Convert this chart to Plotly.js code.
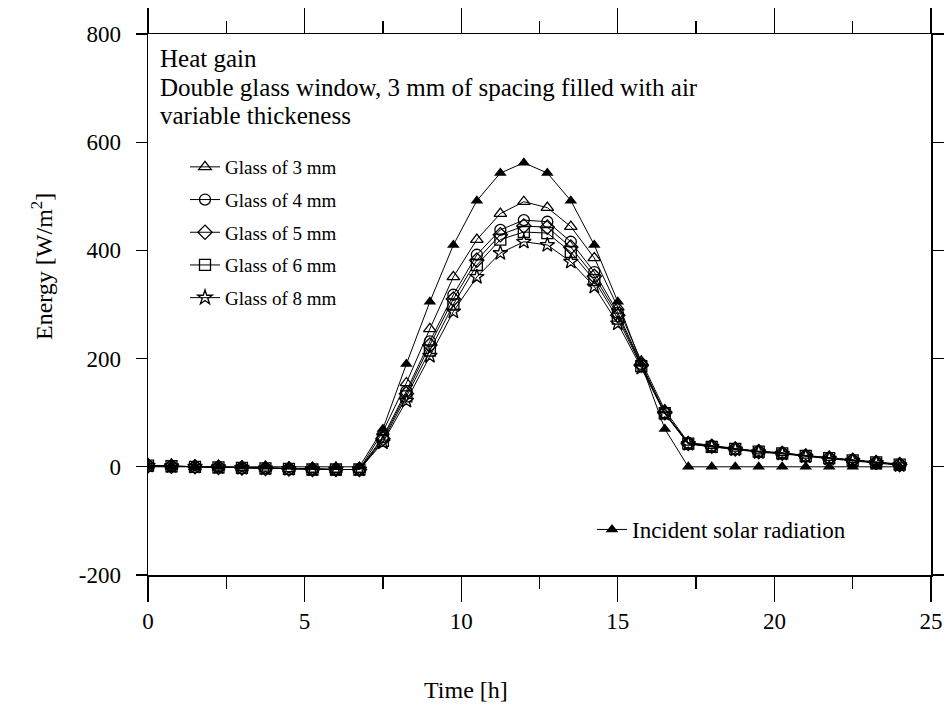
<!DOCTYPE html>
<html>
<head>
<meta charset="utf-8">
<script src="https://cdn.plot.ly/plotly-3.0.1.min.js"></script>
<style>html,body{margin:0;padding:0;background:#fff;}#chart{width:951px;height:709px;}</style>
</head>
<body>
<div id="chart"></div>
<script>
// Time of day [h]
const timeH = [0,0.75,1.5,2.25,3,3.75,4.5,5.25,6,6.75,7.5,8.25,9,9.75,10.5,11.25,12,12.75,13.5,14.25,15,15.75,16.5,17.25,18,18.75,19.5,20.25,21,21.75,22.5,23.25,24];
// Incident solar radiation [W/m2]
const solar = [0,0,0,0,0,0,0,0,0,0,70,190,305,410,492,543,562,543,492,410,305,190,70,0,0,0,0,0,0,0,0,0,0];
// Heat gain for each glass thickness [W/m2]
const glass3 = [2,1,0,-1,-2,-3,-4,-5,-5,-5,65,155,255,351,420,468,490,479,444,386,295,195,105,45,39,34,29,26,21,17,13,9,5];
const glass4 = [2,1,0,-1,-2,-3,-4,-5,-5,-5,55,140,232,318,392,438,456,453,416,360,285,190,100,44,38,33,28,25,20,16,12,8,4];
const glass5 = [2,1,0,-1,-2,-3,-4,-5,-5,-5,52,135,225,310,382,429,445,443,406,352,280,188,100,43,38,33,28,25,20,16,12,8,4];
const glass6 = [2,1,0,-1,-2,-3,-4,-5,-5,-5,48,130,215,300,373,420,434,432,397,345,274,186,99,43,37,33,28,25,20,16,12,8,4];
const glass8 = [2,1,0,-1,-2,-3,-4,-5,-5,-5,45,122,205,287,351,395,416,410,379,333,265,183,98,42,37,32,27,24,19,15,11,7,3];

const seriesNames = ['Glass of 3 mm','Glass of 4 mm','Glass of 5 mm','Glass of 6 mm','Glass of 8 mm'];
const seriesValues = [glass3, glass4, glass5, glass6, glass8];
const seriesSymbols = ['triangle-up-open','circle-open','diamond-open','square-open','star-open'];
const solarName = 'Incident solar radiation';
const xTicks = [0,5,10,15,20,25];
const xMinorTicks = [2.5,7.5,12.5,17.5,22.5];
const yTicks = [-200,0,200,400,600,800];

const FONT = 'Liberation Serif, Times New Roman, serif';

const traces = [{
  x: timeH, y: solar, name: solarName, type: 'scatter', mode: 'lines+markers',
  line: {color: '#000', width: 1},
  marker: {symbol: 'triangle-up', size: 11, color: '#000'},
  legend: 'legend2'
}];
seriesValues.forEach((vals, i) => {
  traces.push({
    x: timeH, y: vals, name: seriesNames[i], type: 'scatter', mode: 'lines+markers',
    line: {color: '#000', width: 1},
    marker: {symbol: seriesSymbols[i], size: 11, color: '#000', line: {width: 1.3, color: '#000'}},
    legendgroup: 'g' + i,
    legend: 'legend'
  });
});

const W = 951, H = 709, L = 148, R = 20, T = 34, B = 134;
const pw = W - L - R, ph = H - T - B;
const px = v => (v - L) / pw;
const py = v => (H - B - v) / ph;

const layout = {
  width: W, height: H,
  margin: {l: L, r: R, t: T, b: B},
  paper_bgcolor: '#fff', plot_bgcolor: '#fff',
  font: {family: FONT, color: '#000', size: 24},
  showlegend: true,
  xaxis: {
    range: [0, 25], tickvals: xTicks, ticktext: xTicks.map(String),
    ticks: 'outside', ticklen: 25, tickwidth: 1.3, tickcolor: '#000',
    showline: true, linecolor: '#000', linewidth: 1.5, mirror: 'ticks',
    showgrid: false, zeroline: false,
    minor: {tickvals: xMinorTicks, ticks: 'outside', ticklen: 12, tickwidth: 1.3, tickcolor: '#000'},
    tickfont: {family: FONT, size: 23, color: '#000'},
    ticklabelstandoff: 0
  },
  yaxis: {
    range: [-200, 800], tickvals: yTicks, ticktext: yTicks.map(String),
    ticks: 'outside', ticklen: 11, tickwidth: 1.3, tickcolor: '#000',
    showline: true, linecolor: '#000', linewidth: 1.5, mirror: 'ticks',
    showgrid: false, zeroline: false,
    tickfont: {family: FONT, size: 23, color: '#000'},
    ticklabelstandoff: 10
  },
  legend: {
    x: px(185), y: py(148), xanchor: 'left', yanchor: 'top',
    bgcolor: 'rgba(0,0,0,0)', borderwidth: 0,
    font: {family: FONT, size: 19, color: '#000'},
    tracegroupgap: 5, itemwidth: 30
  },
  legend2: {
    x: px(592), y: py(508), xanchor: 'left', yanchor: 'top',
    bgcolor: 'rgba(0,0,0,0)', borderwidth: 0,
    font: {family: FONT, size: 23, color: '#000'}
  },
  annotations: [
    {text: 'Heat gain', xref: 'paper', yref: 'paper', x: px(158), y: py(58), xanchor: 'left', yanchor: 'middle', showarrow: false, font: {family: FONT, size: 25, color: '#000'}},
    {text: 'Double glass window, 3 mm of spacing filled with air', xref: 'paper', yref: 'paper', x: px(158), y: py(87), xanchor: 'left', yanchor: 'middle', showarrow: false, font: {family: FONT, size: 25, color: '#000'}},
    {text: 'variable thickeness', xref: 'paper', yref: 'paper', x: px(158), y: py(115), xanchor: 'left', yanchor: 'middle', showarrow: false, font: {family: FONT, size: 25, color: '#000'}},
    {text: 'Time [h]', xref: 'paper', yref: 'paper', x: px(466), y: py(690), xanchor: 'center', yanchor: 'middle', showarrow: false, font: {family: FONT, size: 24, color: '#000'}},
    {text: 'Energy [W/m<sup>2</sup>]', xref: 'paper', yref: 'paper', x: px(42), y: py(266), xanchor: 'center', yanchor: 'middle', textangle: -90, showarrow: false, font: {family: FONT, size: 24, color: '#000'}}
  ]
};

Plotly.newPlot('chart', traces, layout, {displayModeBar: false, staticPlot: true});
</script>
</body>
</html>
